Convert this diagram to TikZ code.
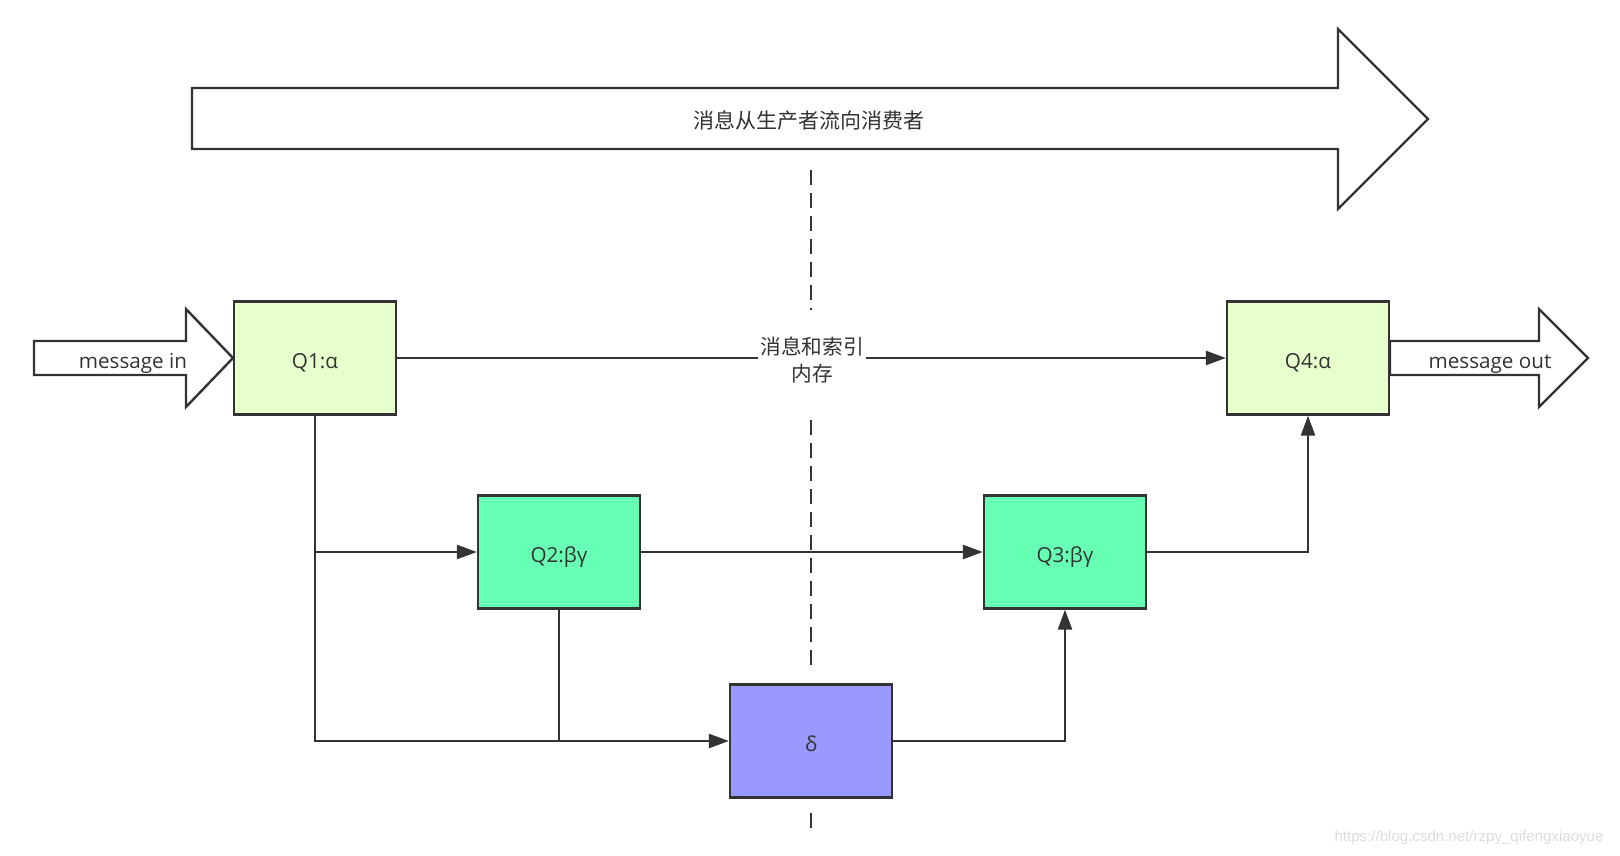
\documentclass[tikz,border=0pt]{standalone}
\usepackage{fontspec}
\setmainfont{Open Sans}
\newfontfamily\cjk{Noto Sans CJK SC}
\newfontfamily\wmfont{Liberation Sans}
\usetikzlibrary{arrows.meta}
\definecolor{ink}{HTML}{333333}
\definecolor{lgreen}{HTML}{E6FFCC}
\definecolor{mgreen}{HTML}{66FFB3}
\definecolor{lblue}{HTML}{9999FF}
\definecolor{wm}{HTML}{DCDCDC}
\begin{document}
\begin{tikzpicture}[x=0.75pt,y=-0.75pt,
  box/.style={draw=ink,line width=1.7pt,minimum width=121.5pt,minimum height=84.75pt,inner sep=0pt,text=ink,text height=18pt,text depth=3pt,font=\fontsize{15.5}{18}\selectfont},
  conn/.style={draw=ink,line width=1.8pt,-{Triangle[length=15pt,width=10.5pt]}},
  plainline/.style={draw=ink,line width=1.8pt},
  bigarrow/.style={draw=ink,line width=1.8pt,fill=white,line join=miter},
  lbl/.style={text=ink,text height=18pt,text depth=3pt,font=\fontsize{15.5}{18}\selectfont},
  cjklbl/.style={text=ink,font=\cjk\fontsize{15.5}{20}\selectfont},
  sepline/.style={draw=ink,line width=1.8pt,dash pattern=on 11.25pt off 6pt}]
\useasboundingbox (0,0) rectangle (1620,856);

% big flow arrow
\draw[bigarrow] (192,88) -- (1338,88) -- (1338,29) -- (1428,119) -- (1338,209) -- (1338,149) -- (192,149) -- cycle;
\node[cjklbl,font=\cjk\fontsize{15.75}{20}\selectfont] (flow) at (809,120) {消息从生产者流向消费者};

% dashed separator
\coordinate (s1a) at (811,170); \coordinate (s1b) at (811,310);
\coordinate (s2a) at (811,420); \coordinate (s2b) at (811,666);
\coordinate (s3a) at (811,813); \coordinate (s3b) at (811,830);
\draw[sepline] (s1a) -- (s1b);
\draw[sepline] (s2a) -- (s2b);
\draw[sepline] (s3a) -- (s3b);

% message in / out arrows
\draw[bigarrow] (34,341) -- (186,341) -- (186,309) -- (233,358) -- (186,407) -- (186,375) -- (34,375) -- cycle;
\node[lbl] (min) at (133,358) {message in};
\draw[bigarrow] (1390,341) -- (1539,341) -- (1539,309) -- (1588,358) -- (1539,407) -- (1539,375) -- (1390,375) -- cycle;
\node[lbl] (mout) at (1490,358) {message out};

% boxes
\node[box,fill=lgreen] (Q1) at (315,358) {Q1:α};
\node[box,fill=lgreen] (Q4) at (1308,358) {Q4:α};
\node[box,fill=mgreen] (Q2) at (559,552) {Q2:βγ};
\node[box,fill=mgreen] (Q3) at (1065,552) {Q3:βγ};
\node[box,fill=lblue] (D) at (811,741) {δ};

% connectors
\draw[conn] (Q1.east) -- (Q4.west);
\node[cjklbl,fill=white,align=center,inner xsep=2pt,inner ysep=1pt] (mem) at (812,360) {消息和索引\\内存};
\draw[conn] (Q1.south) |- (D.west);
\draw[conn] (Q1.south |- Q2.west) -- (Q2.west);
\draw[plainline] (Q2.south) -- (Q2.south |- D.west);
\draw[conn] (Q2.east) -- (Q3.west);
\draw[conn] (Q3.east) -| (Q4.south);
\draw[conn] (D.east) -| (Q3.south);

% watermark
\node[text=wm,font=\wmfont\fontsize{11.3}{13}\selectfont] (wmark) at (1469,838) {https://blog.csdn.net/rzpy\_qifengxiaoyue};
\end{tikzpicture}
\end{document}
